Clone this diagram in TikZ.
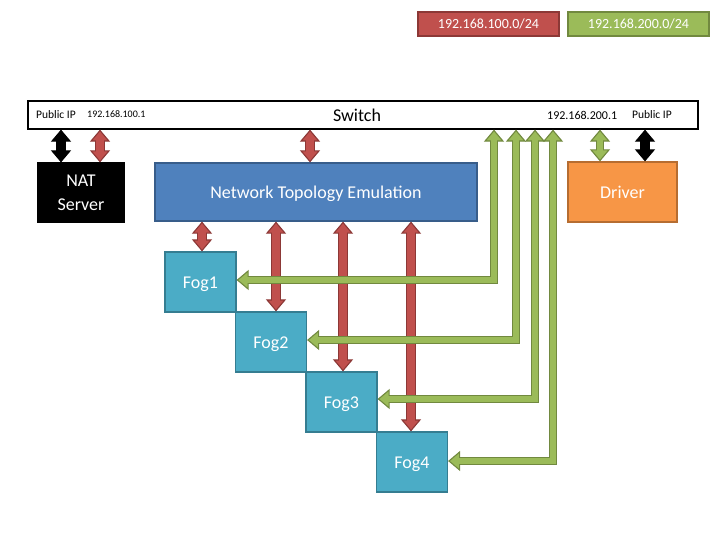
\documentclass[tikz,border=0pt]{standalone}
\usepackage{fontspec}
\setmainfont{Carlito}
\usetikzlibrary{arrows.meta}
\definecolor{redF}{HTML}{C0504D}
\definecolor{redO}{HTML}{8C3836}
\definecolor{grnF}{HTML}{9BBB59}
\definecolor{grnO}{HTML}{71893F}
\definecolor{bluF}{HTML}{4F81BD}
\definecolor{bluO}{HTML}{385D8A}
\definecolor{fogF}{HTML}{4BACC6}
\definecolor{fogO}{HTML}{357D91}
\definecolor{orgF}{HTML}{F79646}
\definecolor{orgO}{HTML}{B66D31}
\tikzset{
  box/.style={draw, line width=1.2pt, inner sep=0pt, text=white, align=center,
    font=\fontsize{18}{24}\selectfont},
  onebox/.style={box, text height=17pt, text depth=4pt},
  fogbox/.style={onebox, fill=fogF, draw=fogO, minimum width=71pt, minimum height=60pt},
  legend/.style={draw, line width=1.2pt, inner sep=0pt, text=white,
    minimum width=141pt, minimum height=24pt, font=\fontsize{14}{16}\selectfont},
  swtext/.style={inner sep=0pt, anchor=west},
  baout/.style 2 args={draw=#2, line width=#1pt, line join=miter},
  bain/.style 2 args={draw=#2, line width=#1pt, line join=miter,
    shorten >=10.8pt, shorten <=10.8pt},
}
\newcommand{\blockarr}[4]{% outline colour, fill colour, shaft width, path
  \draw[baout={#3}{#1}, arrows={Triangle[width=20pt,length=12pt,line width=1.1pt,fill=#2]-Triangle[width=20pt,length=12pt,line width=1.1pt,fill=#2]}] #4;
  \draw[bain={\fpeval{#3-2.4}}{#2}] #4;}
\begin{document}
\begin{tikzpicture}[x=1pt,y=-1pt]
\useasboundingbox (0,0) rectangle (720,540);
% legend
\node[legend, fill=redF, draw=redO] (l1) at (488.5,24) {192.168.100.0/24};
\node[legend, fill=grnF, draw=grnO] (l2) at (638.5,24) {192.168.200.0/24};
% switch
\node[draw=black, line width=1.2pt, minimum width=670pt, minimum height=28pt, inner sep=0pt] (sw) at (363,115) {};
\node[font=\fontsize{18}{20}\selectfont] (swl) at (357,115) {Switch};
\node[swtext, font=\fontsize{11.5}{13}\selectfont] (p1) at (36,115) {Public IP};
\node[swtext, font=\fontsize{10}{12}\selectfont] (i1) at (87,114) {192.168.100.1};
\node[swtext, font=\fontsize{12}{14}\selectfont] (i2) at (547,115) {192.168.200.1};
\node[swtext, font=\fontsize{11.5}{13}\selectfont] (p2) at (632,115) {Public IP};
% boxes
\node[box, fill=black, draw=black, minimum width=86pt, minimum height=59pt] (nat) at (81,192.5) {NAT\\Server};
\node[onebox, fill=bluF, draw=bluO, minimum width=322pt, minimum height=58pt] (nte) at (316,192) {Network Topology Emulation};
\node[onebox, fill=orgF, draw=orgO, minimum width=109pt, minimum height=60pt] (drv) at (622.5,192) {Driver};
\node[fogbox] (f1) at (200.5,282) {Fog1};
\node[fogbox] (f2) at (271,342) {Fog2};
\node[fogbox] (f3) at (341.5,402) {Fog3};
\node[fogbox] (f4) at (412,462) {Fog4};
% x positions of connectors
\coordinate (xb1) at (61,0);
\coordinate (xr1) at (100,0);
\coordinate (xr2) at (310,0);
\coordinate (xr3) at (202,0);
\coordinate (xr4) at (276,0);
\coordinate (xr5) at (343,0);
\coordinate (xr6) at (411,0);
\coordinate (xg0) at (600,0);
\coordinate (xb2) at (645,0);
\coordinate (xg1) at (494,280);
\coordinate (xg2) at (516,340);
\coordinate (xg3) at (535,399);
\coordinate (xg4) at (553,461);
% black arrows
\blockarr{black}{black}{9.5}{(xb1 |- sw.south) -- (xb1 |- nat.north)}
\blockarr{black}{black}{9.5}{(xb2 |- sw.south) -- (xb2 |- drv.north)}
% red arrows
\blockarr{redO}{redF}{10}{(xr1 |- sw.south) -- (xr1 |- nat.north)}
\blockarr{redO}{redF}{10}{(xr2 |- sw.south) -- (xr2 |- nte.north)}
\blockarr{redO}{redF}{10}{(xr3 |- nte.south) -- (xr3 |- f1.north)}
\blockarr{redO}{redF}{10}{(xr4 |- nte.south) -- (xr4 |- f2.north)}
\blockarr{redO}{redF}{10}{(xr5 |- nte.south) -- (xr5 |- f3.north)}
\blockarr{redO}{redF}{10}{(xr6 |- nte.south) -- (xr6 |- f4.north)}
% green arrows
\blockarr{grnO}{grnF}{8.5}{(xg0 |- sw.south) -- (xg0 |- drv.north)}
\blockarr{grnO}{grnF}{8.5}{(xg1 |- sw.south) -- (xg1) -- (xg1 -| f1.east)}
\blockarr{grnO}{grnF}{8.5}{(xg2 |- sw.south) -- (xg2) -- (xg2 -| f2.east)}
\blockarr{grnO}{grnF}{8.5}{(xg3 |- sw.south) -- (xg3) -- (xg3 -| f3.east)}
\blockarr{grnO}{grnF}{8.5}{(xg4 |- sw.south) -- (xg4) -- (xg4 -| f4.east)}
\end{tikzpicture}
\end{document}
